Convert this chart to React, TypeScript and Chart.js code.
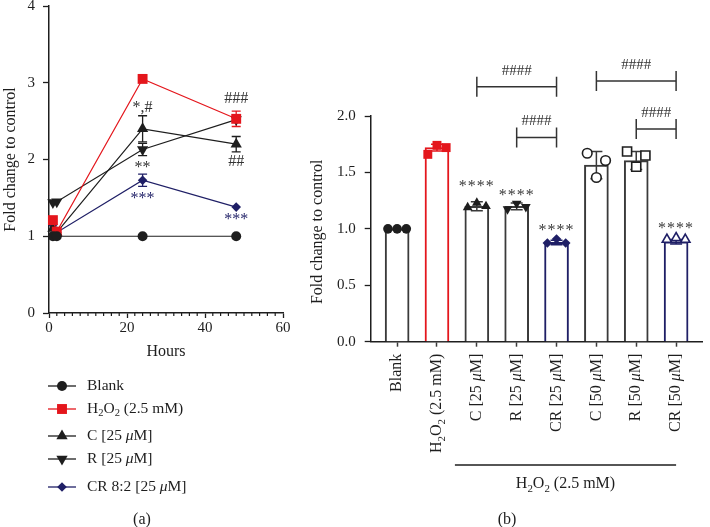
import React, { useEffect, useRef } from 'react';
import { Chart, registerables } from 'chart.js';

Chart.register(...registerables);

const SERIF = '"Liberation Serif", "Times New Roman", serif';
const RED = '#e4161c';
const NAVY = '#1f1f66';
const INK = '#1e1e1e';
const BAR_INK = '#3a3a3a';
const CANVAS_TOP = -20; // canvases start 20px above the page top

// ---------------- Panel (a) data ----------------
const hoursA = [1, 2, 24, 48];
const blankA = [1.0, 1.0, 1.0, 1.0];
const h2o2A = [1.21, 1.06, 3.05, 2.53];
const cA = [1.1, 1.05, 2.4, 2.2];
const rA = [1.44, 1.45, 2.13, 2.52];
const crA = [1.15, 1.05, 1.73, 1.38];
const blankErrA = [0, 0, 0, 0];
const h2o2ErrA = [0, 0, 0, 0.1];
const cErrA = [0, 0, 0.17, 0.1];
const rErrA = [0, 0, 0.08, 0];
const crErrA = [0, 0, 0.08, 0];
const seriesLabelsA = ['Blank', 'H2O2 (2.5 mM)', 'C [25 μM]', 'R [25 μM]', 'CR 8:2 [25 μM]'];
const xMinA = 0;
const xMaxA = 60;
const xStepA = 20;
const xMinorStepA = 2;
const yMinA = 0;
const yMaxA = 4;
const sigTextA = ['*,#', '**', '***', '###', '##', '***'];
const sigHourA = [24, 24, 24, 48, 48, 48];
const sigValueA = [2.68, 1.89, 1.485, 2.79, 1.97, 1.21];
const sigNavyA = [false, false, true, false, false, true];

// ---------------- Panel (b) data ----------------
const categoriesB = ['Blank', 'H2O2 (2.5 mM)', 'C [25 μM]', 'R [25 μM]', 'CR [25 μM]', 'C [50 μM]', 'R [50 μM]', 'CR [50 μM]'];
const meansB = [1.0, 1.72, 1.2, 1.2, 0.88, 1.565, 1.605, 0.885];
const sdB = [0, 0.03, 0.04, 0.03, 0.02, 0.12, 0.08, 0.02];
const rep1B = [1.0, 1.66, 1.19, 1.175, 0.875, 1.67, 1.685, 0.905];
const rep2B = [1.0, 1.74, 1.23, 1.225, 0.91, 1.455, 1.55, 0.92];
const rep3B = [1.0, 1.72, 1.2, 1.195, 0.875, 1.605, 1.65, 0.905];
const yTicksStepB = 0.5;
const starCatsB = [2, 3, 4, 7];
const starValsB = [1.375, 1.295, 0.98, 1.0];
const bracketFromB = [2, 3, 5, 6];
const bracketToB = [4, 4, 7, 7];
const bracketValB = [2.26, 1.81, 2.31, 1.885];
const groupLabelB = 'H2O2 (2.5 mM)';

// ---------------- styles ----------------
const colorsA = [INK, RED, INK, INK, NAVY];
const stylesA = ['circle', 'rect', 'triangle', 'triangleDown', 'diamond'];
const radiiA = [5, 7, 6.5, 6.5, 4.8];
const barColorsB = [BAR_INK, RED, BAR_INK, BAR_INK, NAVY, BAR_INK, BAR_INK, NAVY];
const markerStyleB = ['circle', 'rect', 'triangle', 'triangle', 'rectRot', 'circle', 'rect', 'triangle'];
const markerRotB = [0, 0, 0, 180, 0, 0, 0, 0];
const markerRadiusB = [4.8, 6.3, 5.6, 5.6, 4.8, 4.8, 6.4, 5.4];
const markerFilledB = [true, true, true, true, true, false, false, false];
const jitterB = [-0.23, 0, 0.23];

type Seg = { t: string; sub?: boolean; it?: boolean };

function parseRich(s: string): Seg[] {
  const out: Seg[] = [];
  const re = /H2O2|μ/g;
  let last = 0;
  let m: RegExpExecArray | null;
  while ((m = re.exec(s))) {
    if (m.index > last) out.push({ t: s.slice(last, m.index) });
    if (m[0] === 'μ') out.push({ t: 'μ', it: true });
    else out.push({ t: 'H' }, { t: '2', sub: true }, { t: 'O' }, { t: '2', sub: true });
    last = m.index + m[0].length;
  }
  if (last < s.length) out.push({ t: s.slice(last) });
  return out;
}

function drawRich(ctx: CanvasRenderingContext2D, s: string, x: number, y: number, size: number, align: 'left' | 'right' | 'center', color: string) {
  const segs = parseRich(s);
  const fontOf = (g: Seg) => `${g.it ? 'italic ' : ''}${g.sub ? size * 0.68 : size}px ${SERIF}`;
  let total = 0;
  const widths = segs.map((g) => {
    ctx.font = fontOf(g);
    const w = ctx.measureText(g.t).width;
    total += w;
    return w;
  });
  let cx = align === 'left' ? x : align === 'right' ? x - total : x - total / 2;
  ctx.fillStyle = color;
  ctx.textAlign = 'left';
  ctx.textBaseline = 'middle';
  segs.forEach((g, i) => {
    ctx.font = fontOf(g);
    ctx.fillText(g.t, cx, y + (g.sub ? size * 0.3 : 0));
    cx += widths[i];
  });
}

function drawMarker(ctx: CanvasRenderingContext2D, style: string, x: number, y: number, r: number, color: string) {
  ctx.beginPath();
  if (style === 'circle') ctx.arc(x, y, r, 0, Math.PI * 2);
  else if (style === 'rect') {
    const s = r * Math.SQRT1_2;
    ctx.rect(x - s, y - s, 2 * s, 2 * s);
  } else if (style === 'triangle' || style === 'triangleDown') {
    const d = style === 'triangle' ? 1 : -1;
    ctx.moveTo(x, y - d * r);
    ctx.lineTo(x + 0.866 * r, y + d * 0.5 * r);
    ctx.lineTo(x - 0.866 * r, y + d * 0.5 * r);
    ctx.closePath();
  } else {
    ctx.moveTo(x, y - r);
    ctx.lineTo(x + r, y);
    ctx.lineTo(x, y + r);
    ctx.lineTo(x - r, y);
    ctx.closePath();
  }
  ctx.fillStyle = color;
  ctx.fill();
}

function rotatedText(ctx: CanvasRenderingContext2D, s: string, x: number, y: number, size: number, align: 'left' | 'right' | 'center', color: string) {
  ctx.save();
  ctx.translate(x, y);
  ctx.rotate(-Math.PI / 2);
  drawRich(ctx, s, 0, 0, size, align, color);
  ctx.restore();
}

// ---------------- Panel (a) ----------------
const valuesA = [blankA, h2o2A, cA, rA, crA];
const errsA = [blankErrA, h2o2ErrA, cErrA, rErrA, crErrA];

const legendRowsPageY = [386, 409, 436, 459, 487];

const panelAPlugin = {
  id: 'panelA',
  beforeDatasetsDraw(chart: any) {
    const { ctx, scales } = chart;
    const x = scales.x;
    const y = scales.y;
    errsA.forEach((errs, di) => {
      errs.forEach((e, i) => {
        if (!e) return;
        const px = x.getPixelForValue(hoursA[i]);
        const top = y.getPixelForValue(valuesA[di][i] + e);
        const bot = y.getPixelForValue(valuesA[di][i] - e);
        ctx.save();
        ctx.strokeStyle = colorsA[di];
        ctx.lineWidth = 1.3;
        ctx.beginPath();
        ctx.moveTo(px, top);
        ctx.lineTo(px, bot);
        ctx.moveTo(px - 4.5, top);
        ctx.lineTo(px + 4.5, top);
        ctx.moveTo(px - 4.5, bot);
        ctx.lineTo(px + 4.5, bot);
        ctx.stroke();
        ctx.restore();
      });
    });
  },
  afterDraw(chart: any) {
    const { ctx, scales, chartArea } = chart;
    const x = scales.x;
    const y = scales.y;
    ctx.save();
    // minor ticks
    ctx.strokeStyle = INK;
    ctx.lineWidth = 1.2;
    ctx.beginPath();
    for (let h = xMinA; h <= xMaxA; h += xMinorStepA) {
      if (h % xStepA === 0) continue;
      const px = x.getPixelForValue(h);
      ctx.moveTo(px, chartArea.bottom);
      ctx.lineTo(px, chartArea.bottom + 3);
    }
    ctx.stroke();
    // axis titles
    rotatedText(ctx, 'Fold change to control', 11, (chartArea.top + chartArea.bottom) / 2, 16, 'center', INK);
    drawRich(ctx, 'Hours', (chartArea.left + chartArea.right) / 2, chartArea.bottom + 38.7, 16, 'center', INK);
    // significance marks
    sigTextA.forEach((t, i) => {
      ctx.font = `16px ${SERIF}`;
      ctx.fillStyle = sigNavyA[i] ? NAVY : '#333';
      ctx.textAlign = 'center';
      ctx.textBaseline = 'middle';
      ctx.fillText(t, x.getPixelForValue(sigHourA[i]), y.getPixelForValue(sigValueA[i]));
    });
    // legend
    seriesLabelsA.forEach((lab, i) => {
      const ly = legendRowsPageY[i] - CANVAS_TOP;
      ctx.strokeStyle = colorsA[i];
      ctx.lineWidth = 1.3;
      ctx.beginPath();
      ctx.moveTo(48, ly);
      ctx.lineTo(76, ly);
      ctx.stroke();
      drawMarker(ctx, stylesA[i], 62, ly, radiiA[i], colorsA[i]);
      drawRich(ctx, lab, 87, ly, 15.5, 'left', INK);
    });
    drawRich(ctx, '(a)', 142, 520 - CANVAS_TOP, 16, 'center', INK);
    ctx.restore();
  },
};

function PanelA() {
  const ref = useRef<HTMLCanvasElement>(null);
  useEffect(() => {
    const datasets = valuesA.map((vals, di) => ({
      label: seriesLabelsA[di],
      data: hoursA.map((h, i) => ({ x: h, y: vals[i] })),
      borderColor: colorsA[di],
      backgroundColor: colorsA[di],
      borderWidth: 1.2,
      pointStyle: stylesA[di] === 'triangleDown' ? 'triangle' : stylesA[di] === 'diamond' ? 'rectRot' : stylesA[di],
      pointRotation: stylesA[di] === 'triangleDown' ? 180 : 0,
      pointRadius: radiiA[di],
      pointBorderWidth: 0,
      pointBackgroundColor: colorsA[di],
      clip: false as any,
      tension: 0,
    }));
    const chart = new Chart(ref.current!, {
      type: 'line',
      data: { datasets },
      options: {
        animation: false,
        responsive: false,
        events: [],
        layout: { padding: { left: 0, top: 26, right: 57, bottom: 184 } },
        plugins: { legend: { display: false }, tooltip: { enabled: false } },
        scales: {
          x: {
            type: 'linear',
            min: xMinA,
            max: xMaxA,
            ticks: { stepSize: xStepA, font: { family: SERIF, size: 15 }, color: INK, padding: 1, maxRotation: 0 },
            grid: { drawOnChartArea: false, tickLength: 5, tickColor: INK, tickWidth: 1.3 },
            border: { display: true, color: INK, width: 1.5 },
            afterFit: (s: any) => { s.height = 30; },
          },
          y: {
            type: 'linear',
            min: yMinA,
            max: yMaxA,
            ticks: { stepSize: 1, font: { family: SERIF, size: 15 }, color: INK, padding: 8 },
            grid: { drawOnChartArea: false, tickLength: 6, tickColor: INK, tickWidth: 1.3 },
            border: { display: true, color: INK, width: 1.5 },
            afterFit: (s: any) => { s.width = 49; },
          },
        },
      } as any,
      plugins: [panelAPlugin],
    });
    return () => chart.destroy();
  }, []);
  return (
    <canvas
      ref={ref}
      width={340}
      height={547}
      style={{ position: 'absolute', left: 0, top: CANVAS_TOP, width: 340, height: 547 }}
    />
  );
}

// ---------------- Panel (b) ----------------
const B_LEFT = 300;

const panelBPlugin = {
  id: 'panelB',
  afterDatasetDraw(chart: any, args: any) {
    if (args.index !== 0) return;
    const { ctx, scales } = chart;
    const x = scales.x;
    const y = scales.y;
    ctx.save();
    meansB.forEach((m, i) => {
      const e = sdB[i];
      if (!e) return;
      const px = x.getPixelForValue(i);
      const top = y.getPixelForValue(m + e);
      const bot = y.getPixelForValue(m - e);
      ctx.strokeStyle = barColorsB[i];
      ctx.lineWidth = 1.5;
      ctx.beginPath();
      ctx.moveTo(px, top);
      ctx.lineTo(px, bot);
      ctx.moveTo(px - 6, top);
      ctx.lineTo(px + 6, top);
      ctx.moveTo(px - 6, bot);
      ctx.lineTo(px + 6, bot);
      ctx.stroke();
    });
    ctx.restore();
  },
  afterDraw(chart: any) {
    const { ctx, scales, chartArea } = chart;
    const x = scales.x;
    const y = scales.y;
    ctx.save();
    rotatedText(ctx, 'Fold change to control', 318 - B_LEFT, (chartArea.top + chartArea.bottom) / 2 + 3, 16, 'center', INK);
    // category labels
    categoriesB.forEach((c, i) => {
      rotatedText(ctx, c, x.getPixelForValue(i), chartArea.bottom + 12, 16, 'right', INK);
    });
    // group line + label
    const gx0 = x.getPixelForValue(1.45);
    const gx1 = x.getPixelForValue(7);
    const gy = chartArea.bottom + 123.3;
    ctx.strokeStyle = INK;
    ctx.lineWidth = 1.5;
    ctx.beginPath();
    ctx.moveTo(gx0, gy);
    ctx.lineTo(gx1, gy);
    ctx.stroke();
    drawRich(ctx, groupLabelB, (gx0 + gx1) / 2, gy + 19, 16, 'center', INK);
    drawRich(ctx, '(b)', 507 - B_LEFT, 520 - CANVAS_TOP, 16, 'center', INK);
    // brackets
    bracketFromB.forEach((f, i) => {
      const x0 = x.getPixelForValue(f);
      const x1 = x.getPixelForValue(bracketToB[i]);
      const by = y.getPixelForValue(bracketValB[i]);
      ctx.strokeStyle = '#333';
      ctx.lineWidth = 1.5;
      ctx.beginPath();
      ctx.moveTo(x0, by);
      ctx.lineTo(x1, by);
      ctx.moveTo(x0, by - 10);
      ctx.lineTo(x0, by + 10);
      ctx.moveTo(x1, by - 10);
      ctx.lineTo(x1, by + 10);
      ctx.stroke();
      ctx.font = `15px ${SERIF}`;
      ctx.fillStyle = '#333';
      ctx.textAlign = 'center';
      ctx.textBaseline = 'middle';
      ctx.fillText('####', (x0 + x1) / 2, by - 16);
    });
    // stars
    starCatsB.forEach((c, i) => {
      ctx.font = `16px ${SERIF}`;
      (ctx as any).letterSpacing = '1px';
      ctx.fillStyle = '#3a3a3a';
      ctx.textAlign = 'center';
      ctx.textBaseline = 'middle';
      ctx.fillText('****', x.getPixelForValue(c), y.getPixelForValue(starValsB[i]));
      (ctx as any).letterSpacing = '0px';
    });
    ctx.restore();
  },
};

function PanelB() {
  const ref = useRef<HTMLCanvasElement>(null);
  useEffect(() => {
    const scatterSets = categoriesB.map((_, ci) => {
      const color = barColorsB[ci];
      return {
        type: 'scatter' as const,
        data: [rep1B[ci], rep2B[ci], rep3B[ci]].map((v, k) => ({ x: ci + jitterB[k], y: v })),
        pointStyle: markerStyleB[ci],
        pointRotation: markerRotB[ci],
        pointRadius: markerRadiusB[ci],
        pointBackgroundColor: markerFilledB[ci] ? (ci === 0 || ci === 2 || ci === 3 ? INK : color) : '#fff',
        pointBorderColor: ci === 0 || ci === 2 || ci === 3 || ci === 5 || ci === 6 ? INK : color,
        pointBorderWidth: markerFilledB[ci] ? 0 : 1.6,
        order: 0,
        clip: false as any,
      };
    });
    const chart = new Chart(ref.current!, {
      type: 'bar',
      data: {
        datasets: [
          {
            type: 'bar',
            data: meansB.map((v, i) => ({ x: i, y: v })),
            backgroundColor: '#ffffff',
            borderColor: barColorsB,
            borderWidth: 2,
            barThickness: 24,
            order: 10,
          } as any,
          ...(scatterSets as any[]),
        ],
      },
      options: {
        animation: false,
        responsive: false,
        events: [],
        layout: { padding: { left: 0, top: 136, right: 1, bottom: 165.3 } },
        plugins: { legend: { display: false }, tooltip: { enabled: false } },
        scales: {
          x: {
            type: 'linear',
            min: -0.663,
            max: 7.65,
            offset: false,
            afterBuildTicks: (s: any) => { s.ticks = categoriesB.map((_, i) => ({ value: i })); },
            ticks: { autoSkip: false, callback: () => '', font: { family: SERIF, size: 15 } },
            grid: { offset: false, drawOnChartArea: false, tickLength: 5, tickColor: BAR_INK, tickWidth: 1.5 },
            border: { display: true, color: INK, width: 1.5 },
            afterFit: (s: any) => { s.height = 20; },
          },
          y: {
            type: 'linear',
            min: 0,
            max: 2,
            ticks: {
              stepSize: yTicksStepB,
              font: { family: SERIF, size: 15 },
              color: INK,
              padding: 9,
              callback: (v: any) => Number(v).toFixed(1),
            },
            grid: { drawOnChartArea: false, tickLength: 6, tickColor: INK, tickWidth: 1.3 },
            border: { display: true, color: INK, width: 1.5 },
            afterFit: (s: any) => { s.width = 70.7; },
          },
        },
      } as any,
      plugins: [panelBPlugin],
    });
    return () => chart.destroy();
  }, []);
  return (
    <canvas
      ref={ref}
      width={410}
      height={547}
      style={{ position: 'absolute', left: B_LEFT, top: CANVAS_TOP, width: 410, height: 547 }}
    />
  );
}

export default function App() {
  return (
    <div style={{ position: 'absolute', left: 0, top: 0, width: 710, height: 527, overflow: 'hidden', background: '#fff' }}>
      <PanelA />
      <PanelB />
    </div>
  );
}
